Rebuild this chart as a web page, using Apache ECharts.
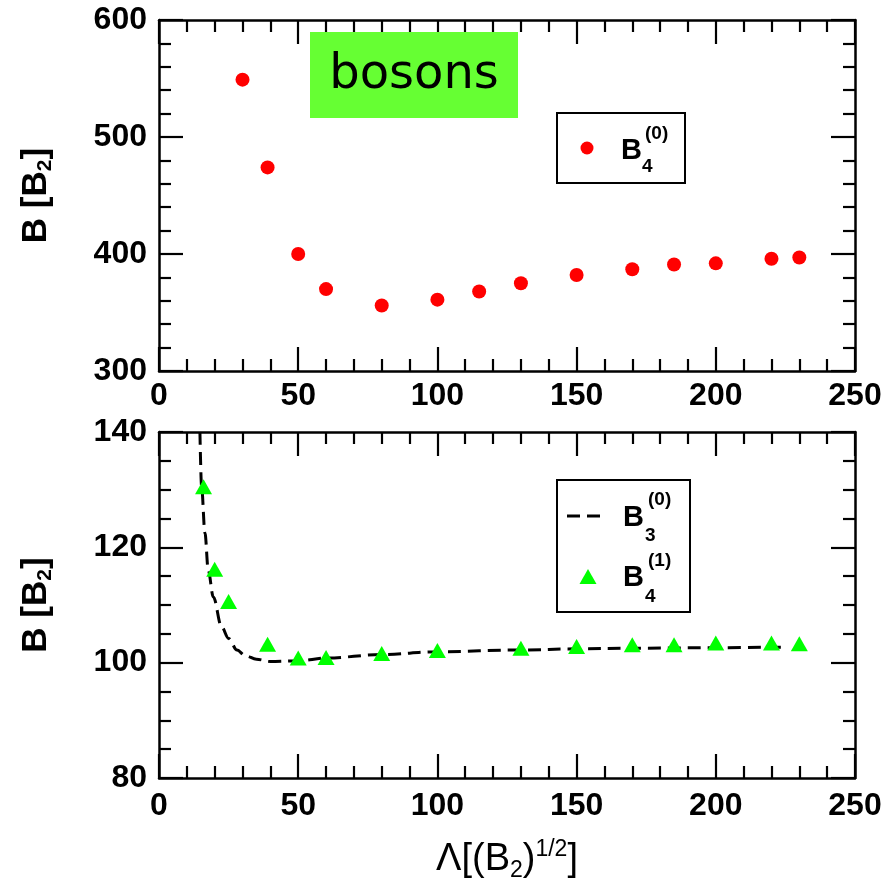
<!DOCTYPE html>
<html>
<head>
<meta charset="utf-8">
<script src="https://cdn.jsdelivr.net/npm/echarts@6/dist/echarts.min.js"></script>
<style>html,body{margin:0;padding:0;background:#fff}#c{width:895px;height:886px}</style>
</head>
<body>
<div id="c"></div>
<script>
// ---- data ----
var topX = [30, 39, 50, 60, 80, 100, 115, 130, 150, 170, 185, 200, 220, 230];
var topY = [549, 474, 400, 370, 356, 361, 368, 375, 382, 387, 391, 392, 396, 397];

var b41X = [16, 20, 25, 39, 50, 60, 80, 100, 130, 150, 170, 185, 200, 220, 230];
var b41Y = [130.5, 116.2, 110.6, 103.2, 100.8, 100.9, 101.6, 102.1, 102.5, 102.8, 103.1, 103.1, 103.4, 103.4, 103.3];

var b30X = [14.7, 15.3, 16.5, 17.7, 19.5, 22.5, 25, 28, 31, 35, 40, 50, 60, 80, 100, 130, 150, 170, 200, 225];
var b30Y = [140, 130.5, 122.5, 116, 111.4, 106.2, 104.2, 102.2, 101.2, 100.6, 100.2, 100.3, 100.8, 101.4, 101.9, 102.2, 102.4, 102.5, 102.6, 102.7];

var xTicks = [0, 50, 100, 150, 200, 250];
var yTopTicks = [300, 400, 500, 600];
var yBotTicks = [80, 100, 120, 140];

function zip(a, b) { return a.map(function (v, i) { return [v, b[i]]; }); }

var FONT = "'Liberation Sans', Arial, sans-serif";
var chart = echarts.init(document.getElementById('c'), null, {renderer: 'canvas'});

function xAx(grid, pos, labels, margin, extra) {
  var o = {
    type: 'value', gridIndex: grid, position: pos,
    min: xTicks[0], max: xTicks[xTicks.length - 1], interval: 50,
    axisLine: {show: true, onZero: false, lineStyle: {color: '#000', width: 2.5}},
    axisTick: {show: true, inside: true, length: 24, lineStyle: {color: '#000', width: 2.2}},
    minorTick: {show: true, splitNumber: 5, length: 12, lineStyle: {color: '#000', width: 2.2}},
    splitLine: {show: false},
    axisLabel: {show: labels, margin: margin, color: '#000', fontSize: 32, fontWeight: 'bold', fontFamily: FONT}
  };
  if (extra) Object.assign(o, extra);
  return o;
}
function yAx(grid, pos, labels, min, max, interval, minorSplit, extra) {
  var o = {
    type: 'value', gridIndex: grid, position: pos,
    min: min, max: max, interval: interval,
    axisLine: {show: true, onZero: false, lineStyle: {color: '#000', width: 2.5}},
    axisTick: {show: true, inside: true, length: 24, lineStyle: {color: '#000', width: 2.2}},
    minorTick: {show: true, splitNumber: minorSplit, length: 12, lineStyle: {color: '#000', width: 2.2}},
    splitLine: {show: false},
    axisLabel: {show: labels, margin: 12, color: '#000', fontSize: 32, fontWeight: 'bold', fontFamily: FONT}
  };
  if (extra) Object.assign(o, extra);
  return o;
}

var yName = {
  name: 'B [B{s|2}]', nameLocation: 'middle', nameGap: 103, nameRotate: 90,
  nameTextStyle: {
    color: '#000', fontSize: 35, fontWeight: 'bold', fontFamily: FONT, lineHeight: 40,
    rich: {s: {fontSize: 21, fontWeight: 'bold', fontFamily: FONT, color: '#000', verticalAlign: 'bottom', lineHeight: 40}}
  }
};

var option = {
  backgroundColor: '#fff',
  animation: false,
  grid: [
    {left: 159, top: 20, width: 696, height: 351, containLabel: false},
    {left: 159, top: 432, width: 696, height: 346, containLabel: false}
  ],
  xAxis: [
    xAx(0, 'bottom', true, 9),
    xAx(0, 'top', false, 8),
    xAx(1, 'bottom', true, 12, {
      name: 'Λ[(B{s|2}){p|1/2}]', nameLocation: 'middle', nameGap: 60,
      nameTextStyle: {
        color: '#000', fontSize: 38, fontFamily: FONT, lineHeight: 44,
        rich: {
          s: {fontSize: 23, fontFamily: FONT, color: '#000', verticalAlign: 'bottom', lineHeight: 44},
          p: {fontSize: 23, fontFamily: FONT, color: '#000', verticalAlign: 'top', lineHeight: 44}
        }
      }
    }),
    xAx(1, 'top', false, 8)
  ],
  yAxis: [
    yAx(0, 'left', true, yTopTicks[0], yTopTicks[yTopTicks.length - 1], 100, 5, yName),
    yAx(0, 'right', false, 300, 600, 100, 5),
    yAx(1, 'left', true, yBotTicks[0], yBotTicks[yBotTicks.length - 1], 20, 4, yName),
    yAx(1, 'right', false, 80, 140, 20, 4)
  ],
  series: [
    {
      name: 'B4(0)', type: 'scatter', xAxisIndex: 0, yAxisIndex: 0,
      data: zip(topX, topY), symbol: 'circle', symbolSize: 14,
      itemStyle: {color: '#ff0000', opacity: 1}
    },
    {
      name: 'B3(0)', type: 'line', xAxisIndex: 2, yAxisIndex: 2,
      data: zip(b30X, b30Y), showSymbol: false, symbol: 'none',
      smooth: 0.35, smoothMonotone: 'x', clip: true,
      lineStyle: {color: '#000', width: 3, type: [13, 7]}
    },
    {
      name: 'B4(1)', type: 'scatter', xAxisIndex: 2, yAxisIndex: 2,
      data: zip(b41X, b41Y), symbol: 'triangle', symbolSize: [17, 15],
      itemStyle: {color: '#00ff00', opacity: 1}, z: 5
    }
  ],
  graphic: [
    // title box
    {type: 'rect', shape: {x: 310, y: 32, width: 208, height: 86}, style: {fill: '#66ff33'}, z: 100},
    {type: 'text', x: 414, y: 76, z: 101, style: {text: 'bosons', fill: '#000', font: "48px 'Comic Sans MS', 'DejaVu Sans', sans-serif", textAlign: 'center', textVerticalAlign: 'middle'}},
    // top legend
    {type: 'rect', shape: {x: 557, y: 113, width: 128, height: 70}, style: {fill: '#fff', stroke: '#000', lineWidth: 2}, z: 100},
    {type: 'circle', shape: {cx: 587, cy: 148, r: 6.5}, style: {fill: '#ff0000'}, z: 101},
    {type: 'text', x: 621, y: 151, z: 101, style: {text: 'B', fill: '#000', font: "bold 29px " + FONT, textVerticalAlign: 'middle'}},
    {type: 'text', x: 642, y: 167, z: 101, style: {text: '4', fill: '#000', font: "bold 19px " + FONT, textVerticalAlign: 'middle'}},
    {type: 'text', x: 645, y: 134, z: 101, style: {text: '(0)', fill: '#000', font: "bold 19px " + FONT, textVerticalAlign: 'middle'}},
    // bottom legend
    {type: 'rect', shape: {x: 557, y: 480, width: 133, height: 132}, style: {fill: '#fff', stroke: '#000', lineWidth: 2}, z: 100},
    {type: 'line', shape: {x1: 567, y1: 516, x2: 607, y2: 516}, style: {stroke: '#000', lineWidth: 3, lineDash: [13, 7]}, z: 101},
    {type: 'text', x: 623, y: 518, z: 101, style: {text: 'B', fill: '#000', font: "bold 29px " + FONT, textVerticalAlign: 'middle'}},
    {type: 'text', x: 645, y: 536, z: 101, style: {text: '3', fill: '#000', font: "bold 19px " + FONT, textVerticalAlign: 'middle'}},
    {type: 'text', x: 648, y: 500, z: 101, style: {text: '(0)', fill: '#000', font: "bold 19px " + FONT, textVerticalAlign: 'middle'}},
    {type: 'polygon', shape: {points: [[588, 569], [579.5, 584], [596.5, 584]]}, style: {fill: '#00ff00'}, z: 101},
    {type: 'text', x: 623, y: 578, z: 101, style: {text: 'B', fill: '#000', font: "bold 29px " + FONT, textVerticalAlign: 'middle'}},
    {type: 'text', x: 645, y: 597, z: 101, style: {text: '4', fill: '#000', font: "bold 19px " + FONT, textVerticalAlign: 'middle'}},
    {type: 'text', x: 648, y: 561, z: 101, style: {text: '(1)', fill: '#000', font: "bold 19px " + FONT, textVerticalAlign: 'middle'}}
  ]
};
chart.setOption(option);
</script>
</body>
</html>
